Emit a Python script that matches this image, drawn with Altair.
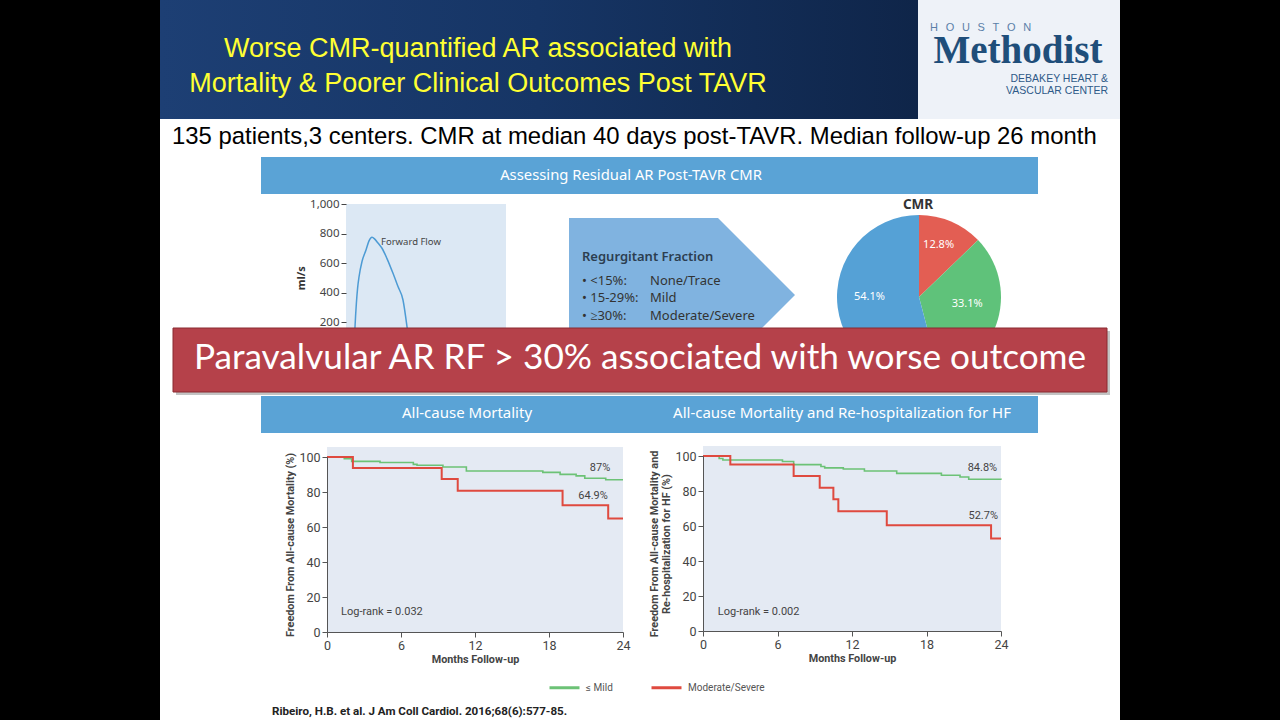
import altair as alt
import pandas as pd

W, H = 1280, 720

# ---------------- values ----------------
flow_time_ms = [40, 45, 52, 58, 65, 80, 100, 115, 130, 145, 160, 180, 205, 235, 260, 285, 305, 320]
flow_ml_s = [0, 166, 330, 430, 505, 610, 688, 750, 775, 760, 735, 700, 630, 530, 440, 349, 168, 0]
flow_ticks = [200, 400, 600, 800, 1000]

rf_classes = ["Moderate/Severe", "Mild", "None/Trace"]
rf_share = [12.8, 33.1, 54.1]

km_groups = ["≤ Mild", "Moderate/Severe"]
month_ticks = [0, 6, 12, 18, 24]
pct_ticks = [0, 20, 40, 60, 80, 100]

mort_mild_month = [0, 1.4, 2.0, 4.3, 7.0, 7.3, 9.4, 11.3, 17.5, 18.9, 20.2, 20.9, 22.6, 24]
mort_mild_surv = [100, 99.0, 97.5, 96.9, 95.8, 95.3, 94.3, 92.0, 91.2, 90.1, 89.2, 87.9, 87.0, 87.0]
mort_sev_month = [0, 2.1, 9.3, 10.6, 19.1, 22.8, 24]
mort_sev_surv = [100, 93.7, 87.4, 80.7, 72.5, 64.9, 64.9]

hf_mild_month = [0, 1.3, 1.6, 6.4, 7.3, 9.5, 9.8, 11.3, 13.0, 15.6, 19.2, 20.7, 21.4, 24]
hf_mild_surv = [100, 98.6, 97.7, 96.9, 95.1, 94.0, 93.2, 92.6, 91.4, 90.1, 89.0, 88.0, 86.7, 86.4]
hf_sev_month = [0, 2.2, 7.3, 9.4, 10.5, 10.9, 14.8, 23.2, 24]
hf_sev_surv = [100, 95.1, 88.6, 81.9, 75.3, 68.4, 60.5, 52.9, 52.9]

# ---------------- styles ----------------
TITLE_FONT = "Liberation Sans"
INFO_FONT = "Noto Sans"
KM_FONT = "Roboto"
BANNER_FONT = "Lato"
BAR_BLUE = "#5aa3d6"
ARROW_BLUE = "#80b3e0"
FLOW_BG = "#dce8f4"
KM_BG = "#e4eaf3"
GREEN = "#6cc276"
RED = "#df4a3f"
PIE_COLORS = ["#e35e53", "#5fc27a", "#55a1d6"]

PX = alt.Scale(domain=[0, W], range=[0, W])
PY = alt.Scale(domain=[0, H], range=[0, H])

units = []


def rect(x, x2, y, y2, **mk):
    df = pd.DataFrame({"x": [x], "x2": [x2], "y": [y], "y2": [y2]})
    units.append(alt.Chart(df).mark_rect(**mk).encode(
        x=alt.X("x:Q", scale=PX, axis=None), x2="x2:Q",
        y=alt.Y("y:Q", scale=PY, axis=None), y2="y2:Q"))


def label(x, y, s, **mk):
    df = pd.DataFrame({"x": [x], "y": [y], "s": [s]})
    units.append(alt.Chart(df).mark_text(**mk).encode(
        x=alt.X("x:Q", scale=PX, axis=None),
        y=alt.Y("y:Q", scale=PY, axis=None),
        text="s:N"))


grad = alt.Gradient(
    gradient="linear",
    stops=[alt.GradientStop(color="#1d3f74", offset=0),
           alt.GradientStop(color="#163565", offset=0.5),
           alt.GradientStop(color="#0f2549", offset=1)],
    x1=0, x2=1, y1=0, y2=0)

# ---------------- slide frame, titles, infographic ----------------
rect(0, 160, 0, H, color="#000000")
rect(1120, W, 0, H, color="#000000")
rect(160, 918, 0, 119, fill=grad)
rect(918, 1120, 0, 119, color="#eef2f8")
label(478, 49, "Worse CMR-quantified AR associated with", font=TITLE_FONT, fontSize=27, color="#ffff33")
label(478, 84, "Mortality & Poorer Clinical Outcomes Post TAVR", font=TITLE_FONT, fontSize=27, color="#ffff33")
sp = "\u2002\u2009"
label(930, 28, sp.join("HOUSTON"), font=TITLE_FONT, fontSize=11, color="#5b7fa8", align="left")
label(1018, 63, "Methodist", font="Liberation Serif", fontSize=39, fontWeight="bold",
      color="#1f4e7a", baseline="alphabetic")
label(1108, 79, "DEBAKEY HEART &", font=TITLE_FONT, fontSize=10.5, color="#2e5a88", align="right")
label(1108, 91, "VASCULAR CENTER", font=TITLE_FONT, fontSize=10.5, color="#2e5a88", align="right")
label(172, 137, "135 patients,3 centers. CMR at median 40 days post-TAVR. Median follow-up 26 month",
      font=TITLE_FONT, fontSize=23.9, color="#000000", align="left")
rect(261, 1038, 157, 194, color=BAR_BLUE)
label(631, 176, "Assessing Residual AR Post-TAVR CMR", font=INFO_FONT, fontSize=14.8, color="#ffffff")

arrow_df = pd.DataFrame({"x": [569, 718, 795], "y": [218, 218, 295], "y2": [372, 372, 295]})
units.append(alt.Chart(arrow_df).mark_area(color=ARROW_BLUE).encode(
    x=alt.X("x:Q", scale=PX, axis=None),
    y=alt.Y("y:Q", scale=PY, axis=None), y2="y2:Q"))
label(582, 257, "Regurgitant Fraction", font=INFO_FONT, fontSize=13, fontWeight=600,
      color="#2c3e50", align="left")
label(582, 281, "• <15%:", font=INFO_FONT, fontSize=13, color="#333333", align="left")
label(650, 281, "None/Trace", font=INFO_FONT, fontSize=13, color="#333333", align="left")
label(582, 298, "• 15-29%:", font=INFO_FONT, fontSize=13, color="#333333", align="left")
label(650, 298, "Mild", font=INFO_FONT, fontSize=13, color="#333333", align="left")
label(582, 316, "• ≥30%:", font=INFO_FONT, fontSize=13, color="#333333", align="left")
label(650, 316, "Moderate/Severe", font=INFO_FONT, fontSize=13, color="#333333", align="left")
label(918, 205, "CMR", font=INFO_FONT, fontSize=13.5, fontWeight="bold", color="#333333")

# ---------------- forward-flow curve ----------------
fx = alt.Scale(domain=[0, 800], range=[346, 506])
fy = alt.Scale(domain=[0, 1000], range=[351.5, 204])
units.append(alt.Chart(pd.DataFrame({"t0": [0], "t1": [800], "v0": [-250], "v1": [1000]})).mark_rect(
    color=FLOW_BG).encode(
    x=alt.X("t0:Q", scale=fx, axis=None), x2="t1:Q",
    y=alt.Y("v0:Q", scale=fy, axis=alt.Axis(
        orient="left", offset=-346, values=flow_ticks, format=",.0f", title="ml/s", domain=False,
        zindex=1, labelFont=INFO_FONT, labelFontSize=11.5, labelColor="#444444", tickColor="#444444",
        tickSize=5, labelPadding=2, titleFont=INFO_FONT, titleFontSize=11, titleFontWeight="bold",
        titleColor="#333333", titlePadding=3, grid=False)),
    y2="v1:Q"))
units.append(alt.Chart(pd.DataFrame({"t": flow_time_ms, "v": flow_ml_s})).mark_line(
    color="#4d9bd4", strokeWidth=1.5, interpolate="monotone").encode(
    x=alt.X("t:Q", scale=fx, axis=None), y=alt.Y("v:Q", scale=fy, axis=None)))
units.append(alt.Chart(pd.DataFrame({"t": [175], "v": [740], "s": ["Forward Flow"]})).mark_text(
    font=INFO_FONT, fontSize=9.5, color="#444444", align="left").encode(
    x=alt.X("t:Q", scale=fx, axis=None), y=alt.Y("v:Q", scale=fy, axis=None), text="s:N"))

# ---------------- pie ----------------
pie_df = pd.DataFrame({"cls": rf_classes, "share": rf_share, "k": [0, 1, 2],
                       "lbl": [f"{v}%" for v in rf_share]})
pie_base = alt.Chart(pie_df).encode(
    theta=alt.Theta("share:Q", stack=True), order=alt.Order("k:Q"))
units.append(pie_base.mark_arc(radius=82).encode(
    x=alt.value(919), y=alt.value(297),
    fill=alt.Fill("cls:N", scale=alt.Scale(domain=rf_classes, range=PIE_COLORS), legend=None)))
units.append(pie_base.mark_text(radius=50, dy=-6, font=INFO_FONT, fontSize=11, color="#ffffff").encode(
    x=alt.value(919), y=alt.value(297), text="lbl:N"))

# ---------------- red banner ----------------
rect(176, 1110, 331, 395, color="#888888", opacity=0.5)
rect(173, 1107, 328, 392, color="#b5414a", stroke="#8a2a31", strokeWidth=1)
label(640, 358, "Paravalvular AR RF > 30% associated with worse outcome", font=BANNER_FONT,
      fontSize=35.2, color="#ffffff")

rect(261, 1038, 396, 433, color=BAR_BLUE)
label(467, 413, "All-cause Mortality", font=INFO_FONT, fontSize=15, color="#ffffff")
label(842, 413, "All-cause Mortality and Re-hospitalization for HF", font=INFO_FONT, fontSize=15,
      color="#ffffff")
label(272, 712, "Ribeiro, H.B. et al. J Am Coll Cardiol. 2016;68(6):577-85.", font=KM_FONT,
      fontSize=11.6, fontWeight="bold", color="#222222", align="left")

# ---------------- Kaplan-Meier panels ----------------
color_scale = alt.Scale(domain=km_groups, range=[GREEN, RED])
km_legend = alt.Legend(orient="none", legendX=548, legendY=671, direction="horizontal", title=None,
                       symbolType="stroke", symbolStrokeWidth=3, symbolSize=900,
                       labelFont=KM_FONT, labelFontSize=10, labelColor="#555555",
                       labelOffset=5, columnPadding=32)


def km_panel(xr, yr, mild_t, mild_s, sev_t, sev_s, ytitle, notes, top):
    xs = alt.Scale(domain=[0, 24], range=xr)
    ys = alt.Scale(domain=[0, 100], range=yr)
    common = dict(zindex=1, labelFont=KM_FONT, labelFontSize=12.5, labelColor="#444444",
                  tickColor="#555555", domainColor="#555555", tickSize=5, labelPadding=2,
                  titleFont=KM_FONT, titleFontSize=10.8, titleFontWeight="bold", titleColor="#444444",
                  grid=False)
    xaxis = alt.Axis(orient="bottom", offset=yr[0] - H, values=month_ticks, title="Months Follow-up",
                     labelFlush=False, titlePadding=2, **common)
    yaxis = alt.Axis(orient="left", offset=-xr[0], values=pct_ticks, title=ytitle, titlePadding=3,
                     **common)
    units.append(alt.Chart(pd.DataFrame({"m0": [0], "m1": [24], "p0": [0], "p1": [top]})).mark_rect(
        color=KM_BG).encode(
        x=alt.X("m0:Q", scale=xs, axis=xaxis), x2="m1:Q",
        y=alt.Y("p0:Q", scale=ys, axis=yaxis), y2="p1:Q"))

    for t, s, grp, w in [(mild_t, mild_s, km_groups[0], 1.6), (sev_t, sev_s, km_groups[1], 2.0)]:
        df = pd.DataFrame({"month": t, "surv": s, "grp": grp})
        units.append(alt.Chart(df).mark_line(interpolate="step-after", strokeWidth=w).encode(
            x=alt.X("month:Q", scale=xs, axis=None), y=alt.Y("surv:Q", scale=ys, axis=None),
            color=alt.Color("grp:N", scale=color_scale, legend=km_legend)))

    for (mx, py, s, al) in notes:
        units.append(alt.Chart(pd.DataFrame({"m": [mx], "p": [py], "s": [s]})).mark_text(
            font=KM_FONT, fontSize=11, color="#444444", align=al).encode(
            x=alt.X("m:Q", scale=xs, axis=None), y=alt.Y("p:Q", scale=ys, axis=None), text="s:N"))


km_panel([327, 623], [632, 457], mort_mild_month, mort_mild_surv, mort_sev_month, mort_sev_surv,
         "Freedom From All-cause Mortality (%)",
         [(22.14, 93.7, "87%", "center"), (21.57, 77.7, "64.9%", "center"),
          (1.14, 11.4, "Log-rank = 0.032", "left")], 105.7)
km_panel([703, 1001], [631, 456], hf_mild_month, hf_mild_surv, hf_sev_month, hf_sev_surv,
         ["Freedom From All-cause Mortality and", "Re-hospitalization for HF (%)"],
         [(22.5, 93.1, "84.8%", "center"), (22.57, 65.7, "52.7%", "center"),
          (1.19, 10.9, "Log-rank = 0.002", "left")], 105.7)

chart = alt.layer(*units).resolve_scale(
    x="independent", y="independent"
).properties(width=W, height=H, padding=0, autosize="none", background="#ffffff"
).configure_view(stroke=None)

chart.save("out.html", embed_options={"renderer": "svg", "actions": False})
